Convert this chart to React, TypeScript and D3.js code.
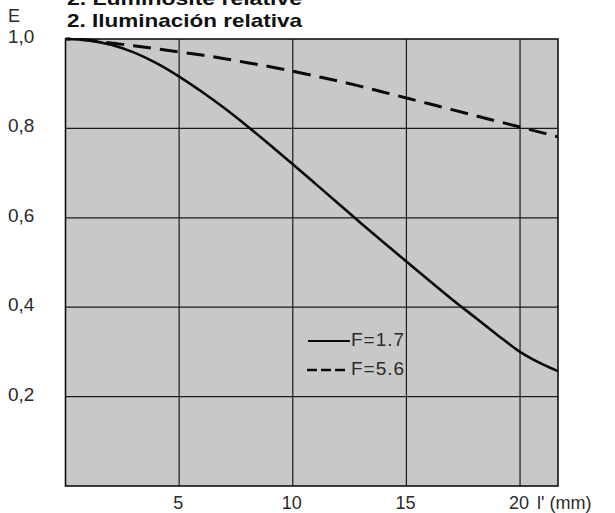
import React from "react";
import * as d3 from "d3";

const xTicks = [5, 10, 15, 20];
const yTicks = [0.2, 0.4, 0.6, 0.8, 1.0];
const yTickLabels = ["0,2", "0,4", "0,6", "0,8", "1,0"];

const seriesF17X = [0, 1, 2, 3, 4, 5, 6, 7, 8, 9, 10, 11, 12, 13, 14, 15, 16, 17, 18, 19, 20, 21, 21.67];
const seriesF17Y = [1.0, 0.997, 0.987, 0.97, 0.946, 0.916, 0.882, 0.845, 0.805, 0.763, 0.72, 0.676, 0.632, 0.588, 0.545, 0.502, 0.46, 0.418, 0.378, 0.338, 0.3, 0.272, 0.257];

const seriesF56X = [0, 1, 2, 3, 4, 5, 6, 7, 8, 9, 10, 11, 12, 13, 14, 15, 16, 17, 18, 19, 20, 21, 21.67];
const seriesF56Y = [1.0, 0.998, 0.991, 0.985, 0.978, 0.971, 0.964, 0.956, 0.947, 0.938, 0.928, 0.917, 0.906, 0.894, 0.881, 0.868, 0.855, 0.842, 0.829, 0.816, 0.803, 0.79, 0.781];

const titleTop = "2. Luminosité relative";
const title = "2.  Iluminación relativa";
const yAxisLabel = "E";
const xAxisLabel = "l' (mm)";
const legendLabels = ["F=1.7", "F=5.6"];

export default function App() {
  const W = 615, H = 513;
  const left = 65.5, right = 558, top = 39, bottom = 486;
  const x = d3.scaleLinear().domain([0, 21.67]).range([left, right]);
  const y = d3.scaleLinear().domain([0, 1]).range([bottom, top]);
  const line = d3.line<[number, number]>().x(d => x(d[0])).y(d => y(d[1])).curve(d3.curveMonotoneX);
  const solid: [number, number][] = seriesF17X.map((v, i) => [v, seriesF17Y[i]]);
  const dashed: [number, number][] = seriesF56X.map((v, i) => [v, seriesF56Y[i]]);
  const font = "'Liberation Sans', Arial, Helvetica, sans-serif";
  const textCol = "#2a2a2a";

  return (
    <svg width={W} height={H} style={{ position: "absolute", left: 0, top: 0, background: "#fff" }}>
      <defs>
        <clipPath id="plotclip">
          <rect x={left} y={top - 2} width={right - left} height={bottom - top + 2} />
        </clipPath>
      </defs>
      <text x={67} y={5} fontFamily={font} fontWeight="bold" fontSize={19} fill="#111" textLength={235} lengthAdjust="spacingAndGlyphs">{titleTop}</text>
      <text x={67} y={27} fontFamily={font} fontWeight="bold" fontSize={19} fill="#111" textLength={235} lengthAdjust="spacingAndGlyphs">{title}</text>
      <text x={8} y={22} fontFamily={font} fontSize={18} fill={textCol}>{yAxisLabel}</text>

      <rect x={left} y={top} width={right - left} height={bottom - top} fill="#c8c8c8" />
      {xTicks.map(t => (
        <line key={"gx" + t} x1={x(t)} x2={x(t)} y1={top} y2={bottom} stroke="#1a1a1a" strokeWidth={1.2} />
      ))}
      {yTicks.filter(t => t < 1).map(t => (
        <line key={"gy" + t} x1={left} x2={right} y1={y(t)} y2={y(t)} stroke="#1a1a1a" strokeWidth={1.2} />
      ))}
      <rect x={left} y={top} width={right - left} height={bottom - top} fill="none" stroke="#111" strokeWidth={1.6} />

      <g clipPath="url(#plotclip)">
        <path d={line(dashed) || ""} fill="none" stroke="#0a0a0a" strokeWidth={3} strokeDasharray="18 9" strokeDashoffset={-14} />
        <path d={line(solid) || ""} fill="none" stroke="#0a0a0a" strokeWidth={2.6} />
      </g>

      {yTicks.map((t, i) => (
        <text key={"yl" + t} x={8} y={y(t) - 1} dominantBaseline="middle" fontFamily={font} fontSize={19} fill={textCol}>{yTickLabels[i]}</text>
      ))}
      {xTicks.map(t => (
        <text key={"xl" + t} x={x(t) - 1} y={509} textAnchor="middle" fontFamily={font} fontSize={18} fill={textCol}>{t}</text>
      ))}
      <text x={537} y={509} fontFamily={font} fontSize={18} fill={textCol}>{xAxisLabel}</text>

      <line x1={308} x2={350} y1={341} y2={341} stroke="#0a0a0a" strokeWidth={2} />
      <text x={351} y={341} dominantBaseline="middle" fontFamily={font} fontSize={19} fill={textCol} letterSpacing={1}>{legendLabels[0]}</text>
      <line x1={307} x2={348} y1={370} y2={370} stroke="#0a0a0a" strokeWidth={2.4} strokeDasharray="10 4" />
      <text x={351} y={370} dominantBaseline="middle" fontFamily={font} fontSize={19} fill={textCol} letterSpacing={1}>{legendLabels[1]}</text>
    </svg>
  );
}
